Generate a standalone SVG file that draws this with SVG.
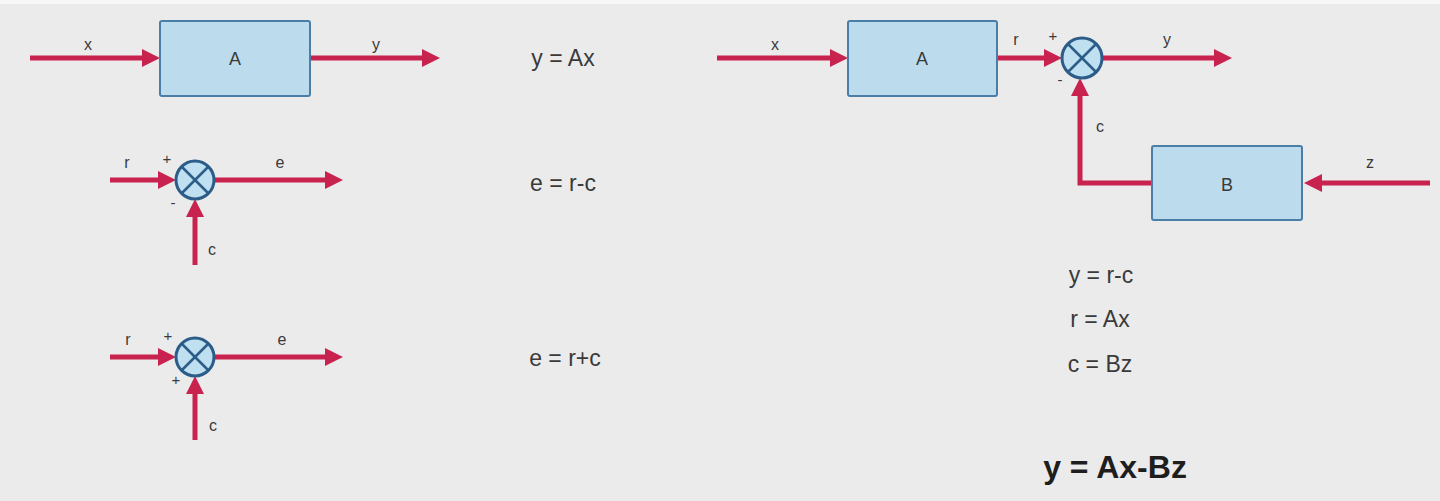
<svg xmlns="http://www.w3.org/2000/svg" width="1440" height="501" viewBox="0 0 1440 501">
<style>
.bg{fill:#ebebeb}
.box{fill:#bcdcee;stroke:#4a7ea6;stroke-width:2}
.sum{fill:#bfe0f0;stroke:#2c5c88;stroke-width:3}
.sx{stroke:#2c5c88;stroke-width:2.5}
.wire{fill:none;stroke:#c8234f;stroke-width:5}
.arr{marker-end:url(#ah)}
text{font-family:"Liberation Sans",Arial,sans-serif;fill:#3a3a3a}
.lbl{font-size:16px;text-anchor:middle}
.sgn{font-size:15px;text-anchor:middle}
.nm{font-size:18px;text-anchor:middle}
.eq{font-size:23px;text-anchor:middle}
.big{font-size:32px;font-weight:bold;text-anchor:middle;fill:#1e1e1e}
</style>
<defs>
<marker id="ah" markerUnits="userSpaceOnUse" markerWidth="20" markerHeight="18" refX="6" refY="9" orient="auto">
<path d="M0,0 L18,9 L0,18 z" fill="#c8234f"/>
</marker>
</defs>
<rect class="bg" x="0" y="0" width="1440" height="501"/>
<rect x="0" y="0" width="1440" height="4" fill="#f7f7f7"/>

<g id="connectors">
<line class="wire arr" x1="30" y1="58" x2="148" y2="58"/>
<line class="wire arr" x1="310" y1="58" x2="428" y2="58"/>
<line class="wire arr" x1="110" y1="180" x2="164" y2="180"/>
<line class="wire arr" x1="214" y1="180" x2="331" y2="180"/>
<line class="wire arr" x1="195" y1="265" x2="195" y2="211"/>
<line class="wire arr" x1="110" y1="357" x2="164" y2="357"/>
<line class="wire arr" x1="214" y1="357" x2="331" y2="357"/>
<line class="wire arr" x1="195" y1="440" x2="195" y2="388"/>
<line class="wire arr" x1="717" y1="58" x2="836" y2="58"/>
<line class="wire arr" x1="997" y1="58" x2="1050" y2="58"/>
<line class="wire arr" x1="1102" y1="58" x2="1220" y2="58"/>
<polyline class="wire arr" points="1152,183 1080,183 1080,90"/>
<line class="wire arr" x1="1430" y1="183" x2="1316" y2="183"/>
</g>

<g id="blockA1">
<rect class="box" x="160" y="21" width="150" height="75" rx="2"/>
<text class="nm" x="235" y="65">A</text>
</g>
<g id="labels1">
<text class="lbl" x="88" y="50">x</text>
<text class="lbl" x="376" y="50">y</text>
<text class="eq" x="563" y="66">y = Ax</text>
</g>

<g id="sum1">
<circle class="sum" cx="195" cy="180" r="19"/>
<line class="sx" x1="181.5" y1="166.5" x2="208.5" y2="193.5"/>
<line class="sx" x1="208.5" y1="166.5" x2="181.5" y2="193.5"/>
<text class="lbl" x="127" y="168">r</text>
<text class="sgn" x="167" y="164">+</text>
<text class="sgn" x="173" y="208">-</text>
<text class="lbl" x="280" y="168">e</text>
<text class="lbl" x="212" y="255">c</text>
<text class="eq" x="563" y="191">e = r-c</text>
</g>

<g id="sum2">
<circle class="sum" cx="195" cy="357" r="19"/>
<line class="sx" x1="181.5" y1="343.5" x2="208.5" y2="370.5"/>
<line class="sx" x1="208.5" y1="343.5" x2="181.5" y2="370.5"/>
<text class="lbl" x="128" y="345">r</text>
<text class="sgn" x="168" y="341">+</text>
<text class="sgn" x="176" y="385">+</text>
<text class="lbl" x="282" y="345">e</text>
<text class="lbl" x="213" y="431">c</text>
<text class="eq" x="565" y="366">e = r+c</text>
</g>

<g id="blockA2">
<rect class="box" x="848" y="21" width="149" height="75" rx="2"/>
<text class="nm" x="922" y="65">A</text>
<text class="lbl" x="775" y="50">x</text>
<text class="lbl" x="1016" y="45">r</text>
</g>

<g id="sum3">
<circle class="sum" cx="1082" cy="58" r="20"/>
<line class="sx" x1="1068" y1="44" x2="1096" y2="72"/>
<line class="sx" x1="1096" y1="44" x2="1068" y2="72"/>
<text class="sgn" x="1053" y="41">+</text>
<text class="sgn" x="1060" y="85">-</text>
<text class="lbl" x="1167" y="45">y</text>
<text class="lbl" x="1100" y="132">c</text>
</g>

<g id="blockB">
<rect class="box" x="1152" y="146" width="150" height="74" rx="2"/>
<text class="nm" x="1227" y="191">B</text>
<text class="lbl" x="1370" y="168">z</text>
</g>

<g id="equations">
<text class="eq" x="1101" y="283">y = r-c</text>
<text class="eq" x="1100" y="327">r = Ax</text>
<text class="eq" x="1100" y="372">c = Bz</text>
<text class="big" x="1115" y="478">y = Ax-Bz</text>
</g>
</svg>
